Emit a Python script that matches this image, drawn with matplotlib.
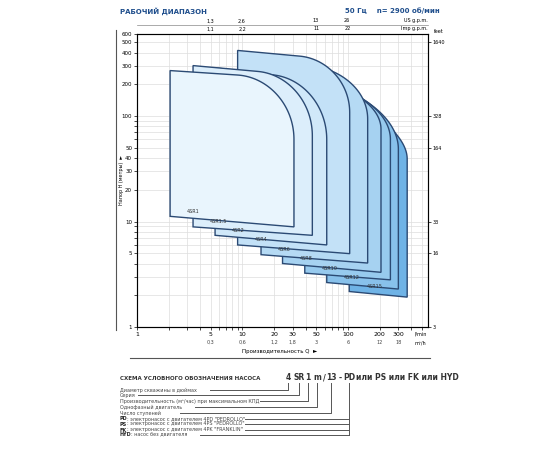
import numpy as np
import matplotlib.pyplot as plt
from matplotlib.ticker import NullFormatter, FixedLocator

# -------------------------------
# Data
# -------------------------------
models = ["4SR1", "4SR1.5", "4SR2", "4SR4", "4SR6", "4SR8", "4SR10", "4SR12", "4SR15"]
q_left = [2.06, 3.4, 5.5, 9.0, 15, 24, 39, 63, 103]          # l/min
q_right = [30.8, 46, 63, 104, 154, 206, 253, 301, 365]
q_corner = [9, 14, 20, 35, 45, 70, 90, 110, 140]
h_top = [270, 301, 287, 419, 340, 280, 250, 220, 190]        # m
h_corner_start = [245, 265, 245, 370, 300, 200, 180, 165, 140]
h_corner_end = [60, 65, 60, 108, 94, 75, 60, 48.5, 39]
h_bot_left = [11.2, 8.9, 7.4, 6.0, 4.85, 4.0, 3.24, 2.64, 2.17]
h_bot_right = [8.9, 7.4, 6.0, 4.96, 4.04, 3.3, 2.8, 2.29, 1.92]

fills = ["#e9f5fd", "#dceefb", "#d0e8f9", "#c3e1f7", "#b5daf4", "#a6d2f1", "#97caee", "#88c1eb", "#6fb3e6"]
edge = "#2b4a74"
blue = "#1f4e8c"

q_ticks = [1, 5, 10, 20, 30, 50, 100, 200, 300]
m3h_ticks = ["", "0,3", "0,6", "1,2", "1,8", "3", "6", "12", "18"]
h_ticks = [1, 5, 10, 20, 30, 40, 50, 100, 200, 300, 400, 500, 600]
us_gpm = [1.3, 2.6, 13, 26]
imp_gpm = [1.1, 2.2, 11, 22]
ft_labels = ["3", "16", "33", "164", "328", "1640"]
ft_at = [1, 5, 10, 50, 100, 500]

plt.rcParams['font.family'] = ['DejaVu Sans']
fig = plt.figure(figsize=(5.5, 4.5), dpi=100)
ax = fig.add_axes([137 / 550, 123 / 450, 291 / 550, 293 / 450])
ax.set_xscale("log")
ax.set_yscale("log")
ax.set_xlim(1, 575)
ax.set_ylim(1, 600)


def envelope(i):
    lx = np.log10([q_left[i], q_corner[i], q_right[i]])
    ly = np.log10([h_top[i], h_corner_start[i], h_corner_end[i]])
    t = np.linspace(0, 1, 50)
    # cubic bezier corner from (qc, hcs) to (qR, hce)
    p0 = np.array([lx[1], ly[1]])
    p3 = np.array([lx[2], ly[2]])
    slope = (ly[1] - np.log10(h_top[i])) / max(lx[1] - lx[0], 1e-6)
    p1 = np.array([lx[1] + 0.55 * (lx[2] - lx[1]), ly[1] + slope * 0.55 * (lx[2] - lx[1])])
    p2 = np.array([lx[2], ly[2] + 0.55 * (p1[1] - ly[2])])
    b = ((1 - t) ** 3)[:, None] * p0 + (3 * (1 - t) ** 2 * t)[:, None] * p1 \
        + (3 * (1 - t) * t ** 2)[:, None] * p2 + (t ** 3)[:, None] * p3
    xs = np.concatenate([[lx[0]], b[:, 0], [lx[2], lx[0]]])
    ys = np.concatenate([[ly[0]], b[:, 1], np.log10([h_bot_right[i], h_bot_left[i]])])
    return 10 ** xs, 10 ** ys


for i in reversed(range(len(models))):
    xs, ys = envelope(i)
    ax.fill(xs, ys, facecolor=fills[i], edgecolor=edge, linewidth=1.0, zorder=3)
    ax.text(q_left[i] * 1.45, h_bot_left[i] * 1.08, models[i], fontsize=3.5,
            color="#333333", zorder=4)

ax.grid(True, which="both", color="#dddddd", linewidth=0.5, zorder=0)
for s in ax.spines.values():
    s.set_color("#555555")
    s.set_linewidth(0.8)
ax.xaxis.set_major_locator(FixedLocator(q_ticks))
ax.set_xticklabels([str(v) for v in q_ticks], fontsize=4.5)
ax.xaxis.set_minor_formatter(NullFormatter())
ax.yaxis.set_major_locator(FixedLocator(h_ticks))
ax.set_yticklabels([str(v) for v in h_ticks], fontsize=4)
ax.yaxis.set_minor_formatter(NullFormatter())
ax.tick_params(length=2, width=0.5, pad=1.5, which="both")

# right feet axis
ax2 = ax.twinx()
ax2.set_yscale("log")
ax2.set_ylim(1, 600)
ax2.yaxis.set_major_locator(FixedLocator(ft_at))
ax2.set_yticklabels(ft_labels, fontsize=3.5)
ax2.yaxis.set_minor_formatter(NullFormatter())
ax2.yaxis.set_minor_locator(FixedLocator([]))
ax2.tick_params(length=2, width=0.5, pad=1.5)
ax2.text(1.02, 1.003, "feet", transform=ax2.transAxes, fontsize=3.5)

# second row under the x axis (m3/h)
tr = ax.get_xaxis_transform()
for q, lab in zip(q_ticks, m3h_ticks):
    ax.text(q, -0.045, lab, transform=tr, fontsize=3.5, ha="center", va="top", color="#444444")
ax.text(490, -0.015, "l/min", transform=tr, fontsize=3.5, ha="center", va="top")
ax.text(490, -0.045, "m³/h", transform=tr, fontsize=3.5, ha="center", va="top")

# top scales
for us, im in zip(us_gpm, imp_gpm):
    ax.text(us * 3.785, 1.04, str(us).replace(".", ","), transform=tr, fontsize=3.5, ha="center")
    ax.text(im * 4.546, 1.012, str(im).replace(".", ","), transform=tr, fontsize=3.5, ha="center")
ax.text(575, 1.04, "US g.p.m.", transform=tr, fontsize=3.5, ha="right")
ax.text(575, 1.012, "Imp g.p.m.", transform=tr, fontsize=3.5, ha="right")

# overlay for titles and the code scheme (pixel coordinates)
ov = fig.add_axes([0, 0, 1, 1], zorder=-1)
ov.set_xlim(0, 550)
ov.set_ylim(450, 0)
ov.axis("off")
ov.plot([137, 428], [25, 25], color="#888888", lw=0.5)
ov.text(120, 11, "РАБОЧИЙ ДИАПАЗОН", fontsize=5, fontweight="bold", color=blue, va="center")
ov.text(440, 11, "50 Гц    n= 2900 об/мин", fontsize=5, fontweight="bold", color=blue,
        va="center", ha="right")
ov.text(280, 352, "Производительность Q  ►", fontsize=4, ha="center", va="center")
ov.plot([130, 430], [358, 358], color="#555555", lw=0.8)
ov.text(121, 180, "Напор H (метры)  ►", fontsize=3.5, rotation=90, ha="center", va="center")
ov.plot([116, 116], [30, 330], color="#555555", lw=0.8)

ov.text(120, 378, "СХЕМА УСЛОВНОГО ОБОЗНАЧЕНИЯ НАСОСА", fontsize=4, fontweight="bold",
        color="#333333", va="center")
code_parts = ["4", "SR", "1", "m", "/", "13", "-", "PD"]
code_x = [288, 299, 308, 317, 324, 331, 340, 349]
for t, x in zip(code_parts, code_x):
    ov.text(x, 378, t, fontsize=5.5, fontweight="bold", color="#333333", ha="center", va="center")
ov.text(356, 378, "или PS или FK или HYD", fontsize=5.5, fontweight="bold", color="#333333",
        va="center")

rows = ["Диаметр скважины в дюймах", "Серия",
        "Производительность (м³/час) при максимальном КПД", "Однофазный двигатель",
        "Число ступеней"]
rows_pd = [("PD", ": электронасос с двигателем 4PD \"PEDROLLO\""),
           ("PS", ": электронасос с двигателем 4PS \"PEDROLLO\""),
           ("FK", ": электронасос с двигателем 4PK \"FRANKLIN\""),
           ("HYD", ": насос без двигателя")]
row_y = [390, 395, 401, 407, 413, 419, 424, 430, 435]
row_end = [210, 138, 260, 195, 180, 245, 245, 245, 200]
lc = "#555555"
for k, txt in enumerate(rows):
    ov.text(120, row_y[k], txt, fontsize=3.5, va="center", color="#444444")
    xc = [288, 299, 308, 317, 331][k]
    ov.plot([row_end[k], xc, xc], [row_y[k], row_y[k], 383], color=lc, lw=0.7)
for k, (b, txt) in enumerate(rows_pd):
    y = row_y[5 + k]
    ov.text(120, y, b, fontsize=3.5, fontweight="bold", va="center", color="#222222")
    ov.text(120 + 3.7 * len(b), y, txt, fontsize=3.5, va="center", color="#444444")
    ov.plot([row_end[5 + k], 349], [y, y], color=lc, lw=0.7)
ov.plot([349, 349], [row_y[-1], 383], color=lc, lw=0.7)

fig.savefig("out.png", dpi=100)
